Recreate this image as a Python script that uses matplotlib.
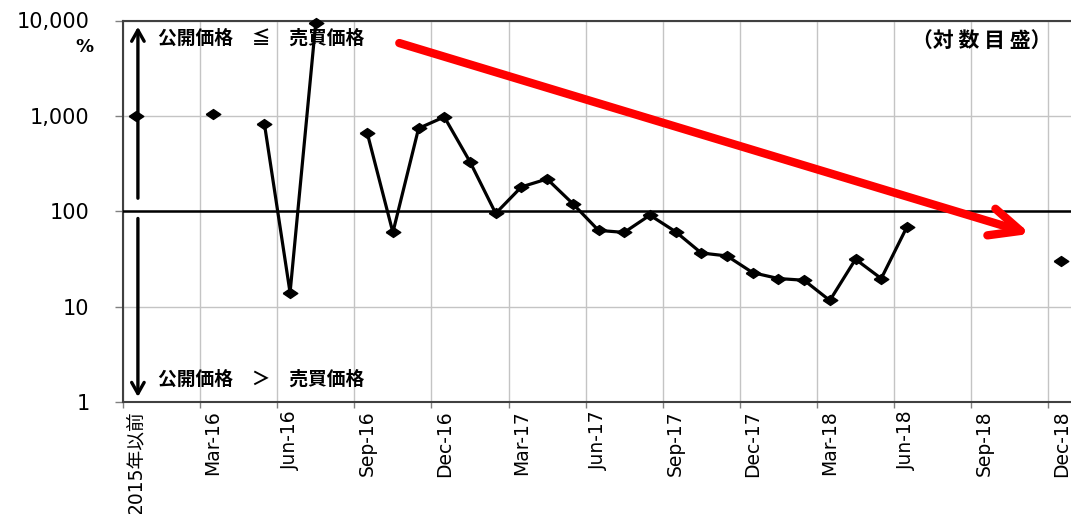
import numpy as np
import matplotlib
matplotlib.use("Agg")
import matplotlib.pyplot as plt
from matplotlib.ticker import FixedLocator, FixedFormatter, NullLocator

# ---------------- data ----------------
categories = [
    "2015年以前",
    "Jan-16", "Feb-16", "Mar-16", "Apr-16", "May-16", "Jun-16",
    "Jul-16", "Aug-16", "Sep-16", "Oct-16", "Nov-16", "Dec-16",
    "Jan-17", "Feb-17", "Mar-17", "Apr-17", "May-17", "Jun-17",
    "Jul-17", "Aug-17", "Sep-17", "Oct-17", "Nov-17", "Dec-17",
    "Jan-18", "Feb-18", "Mar-18", "Apr-18", "May-18", "Jun-18",
    "Jul-18", "Aug-18", "Sep-18", "Oct-18", "Nov-18", "Dec-18",
]
nan = np.nan
ratio_pct = [
    1000,
    nan, nan, 1040, nan, 830, 14,
    9500, nan, 665, 60, 740, 975,
    330, 95, 180, 218, 120, 63,
    60, 91, 61, 36.5, 34, 22.7,
    19.7, 18.9, 11.6, 31.4, 19.7, 68.5,
    nan, nan, nan, nan, nan, 30,
]
label_every = 3
tick_labels = categories[::label_every]
y_ticks = [1, 10, 100, 1000, 10000]
y_tick_labels = ["1", "10", "100", "1,000", "10,000"]

# ---------------- figure ----------------
W, H = 1071, 514
fig = plt.figure(figsize=(W / 100, H / 100), dpi=100)
ax = fig.add_axes([123 / W, (H - 402) / H, 951 / W, (402 - 20.5) / H])

x = np.arange(len(categories))
ax.set_yscale("log")
ax.set_ylim(1, 10000)
ax.set_xlim(-0.5, len(categories) - 0.5)

# y axis
ax.yaxis.set_major_locator(FixedLocator(y_ticks))
ax.yaxis.set_major_formatter(FixedFormatter(y_tick_labels))
ax.yaxis.set_minor_locator(NullLocator())
ax.tick_params(axis="y", which="major", length=6, width=1, color="#808080",
               pad=18, labelsize=15, direction="out")

# x axis: major ticks at category boundaries (grid), minor at label centres
bounds = np.arange(-0.5, len(categories) - 1, label_every)
ax.xaxis.set_major_locator(FixedLocator(bounds))
ax.xaxis.set_major_formatter(FixedFormatter([""] * len(bounds)))
ax.xaxis.set_minor_locator(FixedLocator(x[::label_every]))
ax.xaxis.set_minor_formatter(FixedFormatter(tick_labels))
ax.tick_params(axis="x", which="major", length=4, width=1, color="#808080",
               direction="out")
ax.tick_params(axis="x", which="minor", length=0, pad=6, labelsize=13.5,
               labelrotation=90)
for lab in ax.get_xticklabels(minor=True):
    lab.set_fontfamily(["DejaVu Sans", "Noto Sans CJK JP"])

ax.grid(True, which="major", axis="both", color="#c4c4c4", lw=1)
ax.set_axisbelow(True)

for s in ("left", "bottom", "top"):
    ax.spines[s].set_color("#404040")
    ax.spines[s].set_linewidth(1.5)
ax.spines["right"].set_visible(False)

# reference line at 100 %
ax.axhline(100, color="black", lw=1.8, zorder=3)

# data series
diamond = [(-1, 0), (0, 0.68), (1, 0), (0, -0.68), (-1, 0)]
ax.plot(x, ratio_pct, color="black", lw=2.3, marker=diamond, ms=10.5,
        mfc="black", mec="black", zorder=5, clip_on=False)

# black vertical arrows on the left
ax.annotate("", xy=(0.08, 8600), xytext=(0.08, 137),
            arrowprops=dict(arrowstyle="->,head_length=0.8,head_width=0.45",
                            lw=2.4, color="black", shrinkA=0, shrinkB=0))
ax.annotate("", xy=(0.08, 1.13), xytext=(0.08, 84),
            arrowprops=dict(arrowstyle="->,head_length=0.8,head_width=0.45",
                            lw=2.4, color="black", shrinkA=0, shrinkB=0))

# red trend arrow
ax.annotate("", xy=(34.8, 58), xytext=(10.25, 5800),
            arrowprops=dict(arrowstyle="->,head_length=2.2,head_width=1.0",
                            lw=6, color="#ff0000", shrinkA=0, shrinkB=0,
                            joinstyle="round", capstyle="round"),
            zorder=6)

# texts
cjk = ["Noto Sans CJK JP", "DejaVu Sans"]
def ftext(px, py, s, **kw):
    fig.text(px / W, 1 - py / H, s, **kw)

ftext(158, 38, "公開価格　≦　売買価格", fontsize=13.5, fontweight="bold",
      family=cjk, va="center", ha="left")
ftext(158, 379, "公開価格　＞　売買価格", fontsize=13.5, fontweight="bold",
      family=cjk, va="center", ha="left")
ftext(912, 40, "（対 数 目 盛）", fontsize=15, fontweight="bold",
      family=cjk, va="center", ha="left")
ftext(94, 47, "%", fontsize=13, fontweight="bold", va="center", ha="right")

fig.savefig("out.png", dpi=100)
